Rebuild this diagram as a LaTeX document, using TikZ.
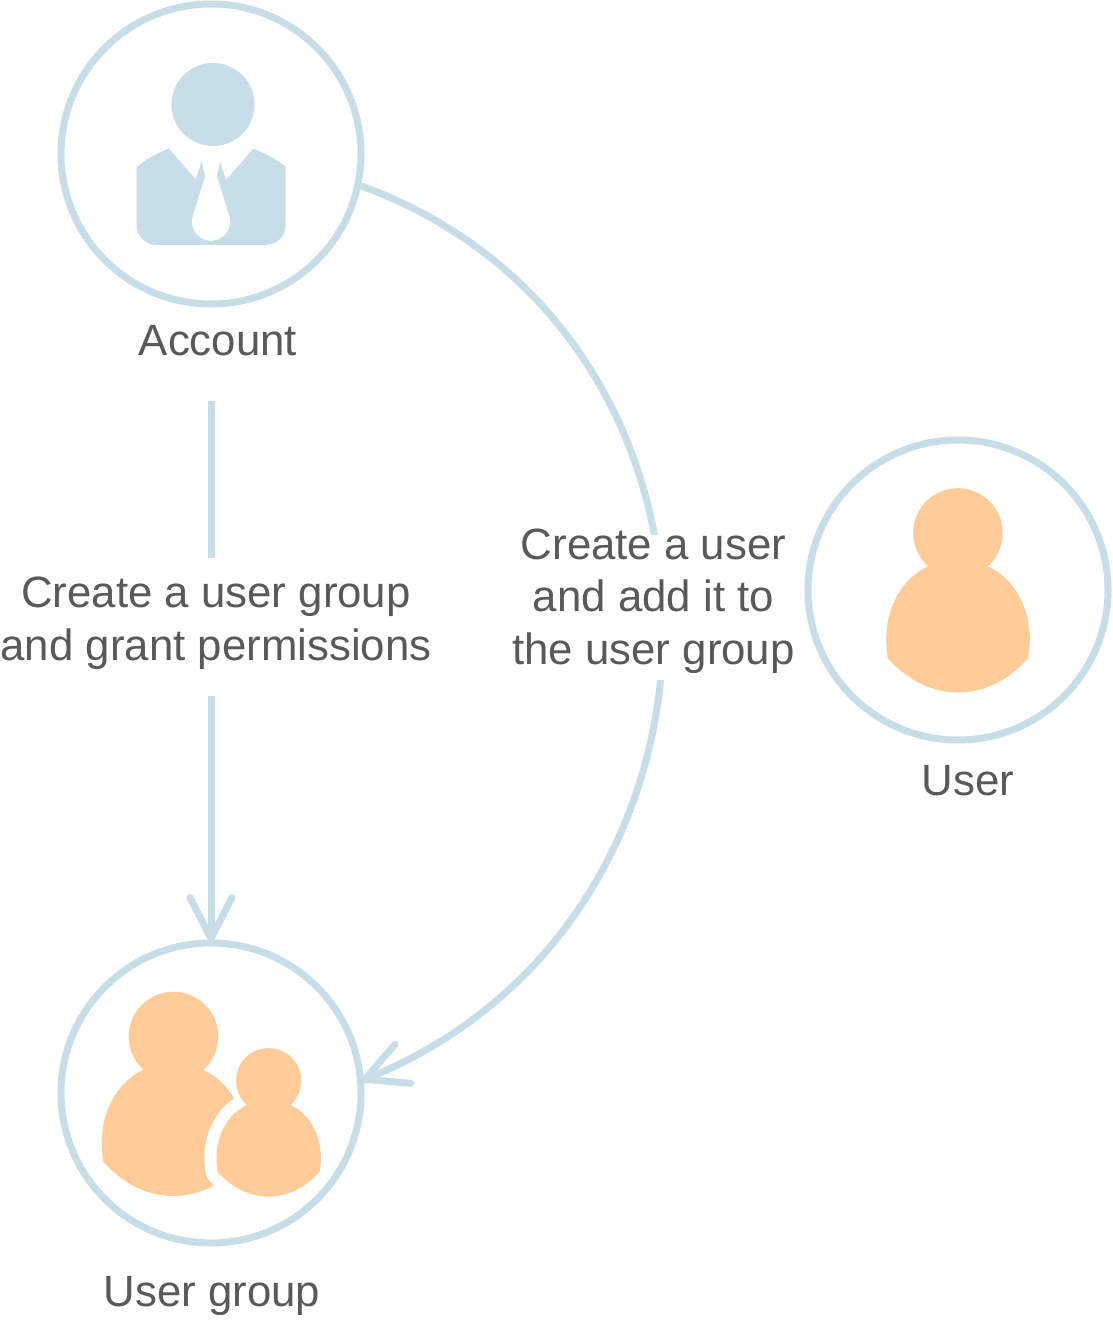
\documentclass[tikz,border=0pt]{standalone}
\usepackage{fontspec}
\setmainfont{Liberation Sans}
\usepackage{tikz}
\usetikzlibrary{arrows.meta}
\definecolor{paleblue}{HTML}{C7DDE8}
\definecolor{paleorange}{HTML}{FFCB99}
\definecolor{labelgray}{HTML}{595959}
\newcommand{\personbody}{(-24.5,-31.2) .. controls (-53,-41) and (-71.8,-71) .. (-71.8,-106.5)
    .. controls (-71.8,-113) and (-71,-119) .. (-70.2,-125.2)
    .. controls (-52,-146) and (-27,-159.5) .. (0,-159.5)
    .. controls (27,-159.5) and (52,-146) .. (70.2,-125.2)
    .. controls (71,-119) and (71.8,-113) .. (71.8,-106.5)
    .. controls (71.8,-71) and (53,-41) .. (24.5,-31.2) -- cycle}
\tikzset{
    roundel/.style={circle,draw=paleblue,line width=7pt,minimum size=300pt,inner sep=0pt},
    caption/.style={text=labelgray,font=\fontsize{43.8}{52.5}\selectfont,align=center,inner sep=0pt},
    gapcaption/.style={caption,fill=white,inner xsep=4pt},
    link/.style={draw=paleblue,line width=7pt,shorten >=-2.5pt,-{Straight Barb[length=41pt,width=42pt,round]}},
    person/.pic={
        \path [pic actions] \personbody;
        \fill [paleorange] \personbody;
        \fill [paleorange] (0,0) circle [radius=44.8];
    }
}
\begin{document}
\begin{tikzpicture}[x=1pt,y=1pt]
    \useasboundingbox (0,-1321) rectangle (1112,0);
    % circles
    \node [roundel] (account) at (211,-154) {};
    \node [roundel] (user) at (958,-590) {};
    \node [roundel] (usergroup) at (211,-1093) {};
    \coordinate (accountend) at (211,-401);
    % account icon
    \fill [paleblue] (213,-104.5) circle [radius=41.5];
    \fill [paleblue] (136.7,-167.3) .. controls (146,-159) and (157,-153) .. (169,-148.7) -- (195.7,-179.3) -- (201.7,-161.7)
        -- (205,-176) -- (192.7,-215.7) arc [start angle=162,end angle=378,radius=19.2]
        -- (217,-176) -- (220,-161.7) -- (226,-180)
        -- (253.3,-148.7) .. controls (265,-153) and (276,-159) .. (285.7,-166.7) -- (285.7,-225)
        .. controls (285.7,-237) and (276,-245) .. (265,-245) -- (157,-245)
        .. controls (146,-245) and (136.7,-237) .. (136.7,-225) -- cycle;
    % people
    \pic at (958,-533) {person};
    \pic at (173.5,-1036.5) {person};
    \pic [scale=0.727,draw=white,line width=24pt,line join=round] at (268.7,-1080.7) {person};
    % connectors
    \draw [link] (accountend) -- (usergroup.north);
    \draw [link] (account.-12.5) to [out=-20,in=22,looseness=1.225] (usergroup.5.7);
    % labels
    \node [caption] (accountlabel) at (218,-341) {Account};
    \node [caption] (userlabel) at (968,-781) {User};
    \node [caption] (usergrouplabel) at (212,-1296) {User group};
    \node [gapcaption,inner ysep=19pt] (grouptext) at (216,-627) {Create a user group\\and grant permissions\rule[-17pt]{0pt}{17pt}};
    \node [gapcaption,inner ysep=-6pt] (usertext) at (653.5,-607.5) {Create a user\\and add it to\\the user group\rule[-22pt]{0pt}{22pt}};
\end{tikzpicture}
\end{document}
